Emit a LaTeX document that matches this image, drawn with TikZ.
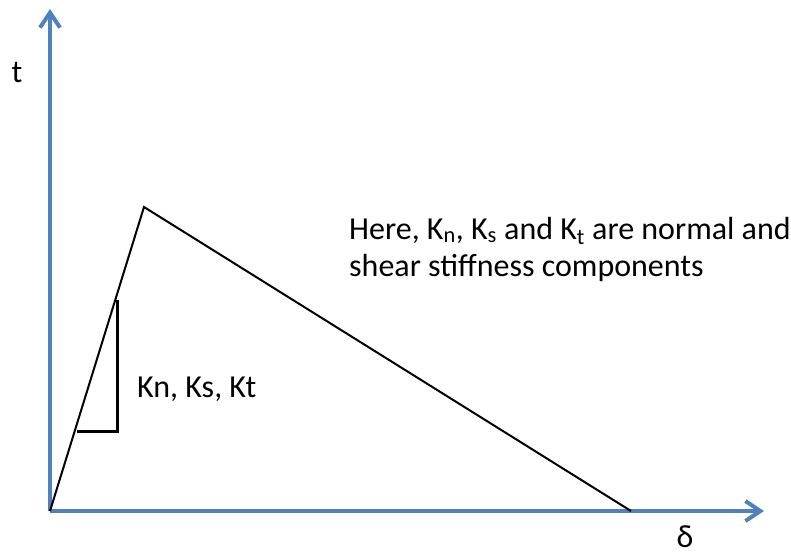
\documentclass[tikz,border=0pt]{standalone}
\usepackage{fontspec}
\setmainfont{Carlito}
\usetikzlibrary{arrows.meta}
\definecolor{axisblue}{RGB}{79,129,189}
\tikzset{
  axis/.style={draw=axisblue,line width=4pt,-{Straight Barb[length=15pt,width=20pt,line width=4pt]}},
  curve/.style={draw=black,line width=2pt,line join=miter},
  slopebox/.style={draw=black,line width=3pt},
  lbl/.style={inner sep=0pt,font=\fontsize{32}{37}\selectfont}
}
\begin{document}
\begin{tikzpicture}[x=1pt,y=-1pt]
\useasboundingbox (0,0) rectangle (791,554);
\coordinate (O) at (50,511);
\coordinate (ytip) at (50,9);
\coordinate (xtip) at (764,511);
\coordinate (peak) at (144,207);
\coordinate (end) at (631,511);
\coordinate (s1) at (117,300);
\coordinate (s2) at (117,431);
\coordinate (s3) at (77,431);
\draw[axis] (O) -- (ytip);
\draw[axis] (O) -- (xtip);
\draw[curve] (O) -- (peak) -- (end);
\draw[slopebox] (s1) -- (s2) -- (s3);
\node[lbl,anchor=base] (tl) at (17,82) {t};
\node[lbl,anchor=base] (dl) at (685,547) {δ};
\node[lbl,anchor=base west] (kl) at (137,397) {Kn, Ks, Kt};
\node[lbl,anchor=base west,align=left] (note) at (349,276) {Here, K\textsubscript{n}, K\textsubscript{s} and K\textsubscript{t} are normal and\\shear stiffness components};
\end{tikzpicture}
\end{document}
